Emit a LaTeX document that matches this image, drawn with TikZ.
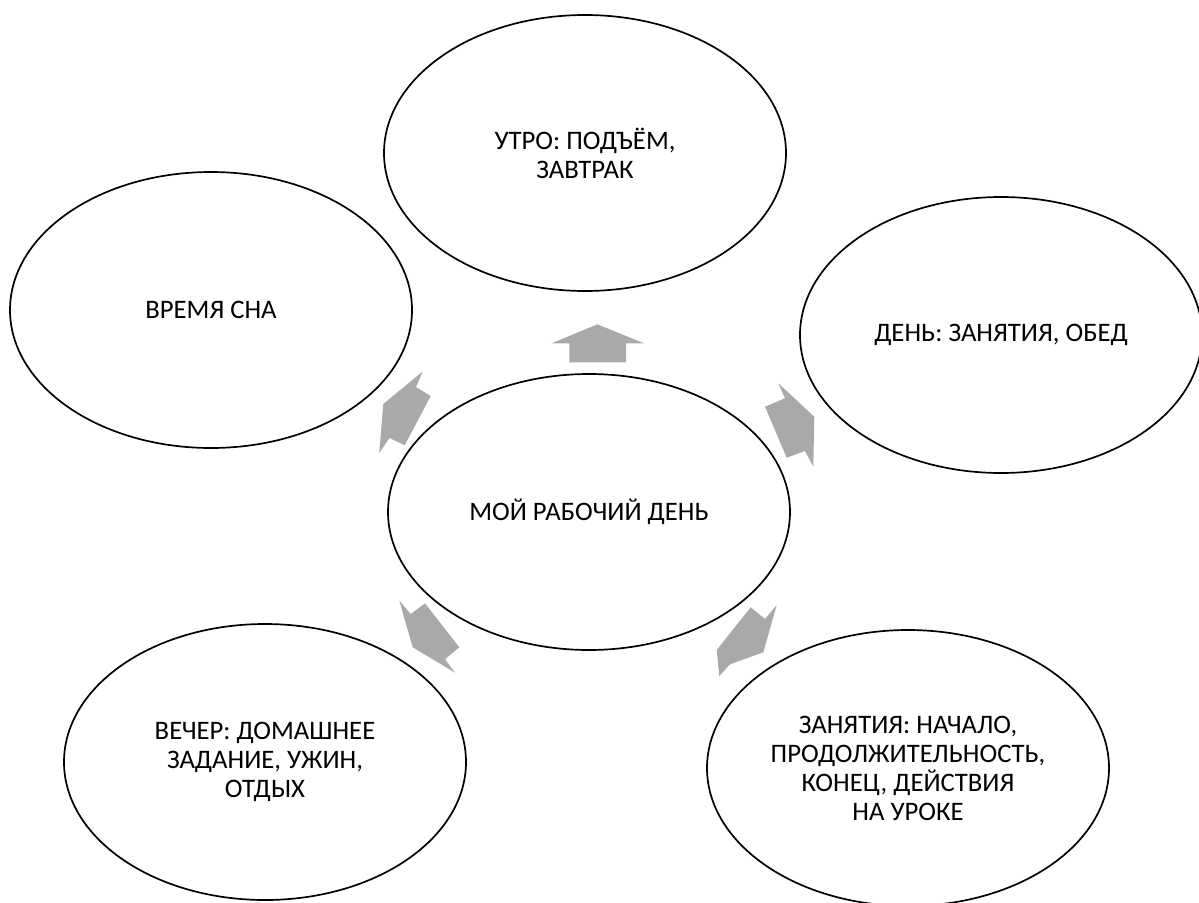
\documentclass[tikz,border=0pt]{standalone}
\usepackage{fontspec}
\setmainfont{Carlito}
\usetikzlibrary{shapes.geometric}
\definecolor{arrowgray}{RGB}{169,169,169}
\tikzset{
  bubble/.style={ellipse, draw=black, line width=1.7pt, fill=white,
    minimum width=402pt, minimum height=276pt, inner sep=0pt,
    align=center, font=\fontsize{26.7}{29}\selectfont},
  blockarrow/.style={fill=arrowgray, draw=none}
}
\begin{document}
\begin{tikzpicture}[x=1pt,y=-1pt]
\useasboundingbox (0,0) rectangle (1199,902);
\node[bubble] (top) at (585,153) {УТРО: ПОДЪЁМ,\\ЗАВТРАК};
\node[bubble] (sleep) at (211,310) {ВРЕМЯ СНА};
\node[bubble] (day) at (1001,335) {ДЕНЬ: ЗАНЯТИЯ, ОБЕД};
\node[bubble] (center) at (589,512) {МОЙ РАБОЧИЙ ДЕНЬ};
\node[bubble] (evening) at (265,762) {ВЕЧЕР: ДОМАШНЕЕ\\ЗАДАНИЕ, УЖИН,\\ОТДЫХ};
\node[bubble] (lessons) at (908,768) {ЗАНЯТИЯ: НАЧАЛО,\\ПРОДОЛЖИТЕЛЬНОСТЬ,\\КОНЕЦ, ДЕЙСТВИЯ\\НА УРОКЕ};
% block arrows
\fill[blockarrow] (551.7,343.3) -- (597.3,324.3) -- (644,343.3) -- (626,343.3) -- (626,362.3) -- (569.3,362.5) -- (569.3,343.3) -- cycle;
\fill[blockarrow] (422.7,371.5) -- (416,387) -- (430.7,396) -- (404.7,445.3) -- (389.5,438) -- (379.2,453) -- (383.3,404) -- (386,401.7) -- cycle;
\fill[blockarrow] (778.3,383.3) -- (785,398.3) -- (765,406.7) -- (786.7,457.7) -- (805,451) -- (813.3,466.7) -- (814.3,416.7) -- cycle;
\fill[blockarrow] (399.3,600.7) -- (410.7,614) -- (425,603.3) -- (459.3,647.3) -- (445,659.3) -- (455,672.7) -- (412.7,647.3) -- cycle;
\fill[blockarrow] (750.7,607.3) -- (765,619) -- (776.7,605) -- (763.3,652.3) -- (730,664.3) -- (719.3,676) -- (716.7,650) -- cycle;
\end{tikzpicture}
\end{document}
